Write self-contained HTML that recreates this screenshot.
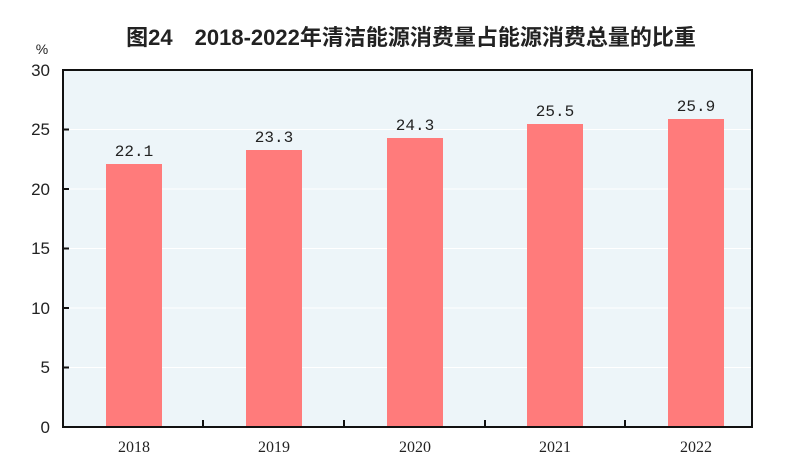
<!DOCTYPE html>
<html><head><meta charset="utf-8"><style>body{margin:0;background:#fff}</style></head><body>
<svg width="800" height="468" xmlns="http://www.w3.org/2000/svg" font-family="Liberation Sans, Noto Sans CJK SC, sans-serif">
<text x="411" y="45" font-size="22" font-weight="bold" text-anchor="middle" fill="#222" font-family="Liberation Sans, Noto Sans CJK SC, sans-serif">图24　2018-2022年清洁能源消费量占能源消费总量的比重</text>
<rect x="63" y="70" width="689" height="357" fill="#edf5f9"/>
<g stroke="#fff" stroke-width="1">
<line x1="63" x2="752" y1="129.5" y2="129.5"/><line x1="63" x2="752" y1="189" y2="189"/><line x1="63" x2="752" y1="248.5" y2="248.5"/><line x1="63" x2="752" y1="308" y2="308"/><line x1="63" x2="752" y1="367.5" y2="367.5"/>
</g>
<g fill="#ff7b7b">
<rect x="106" y="164" width="56" height="263"/>
<rect x="246" y="150" width="56" height="277"/>
<rect x="387" y="138" width="56" height="289"/>
<rect x="527" y="124" width="56" height="303"/>
<rect x="668" y="119" width="56" height="308"/>
</g>
<rect x="63" y="70" width="689" height="357" fill="none" stroke="#111" stroke-width="2"/>
<g stroke="#111" stroke-width="2">
<line x1="63" x2="69" y1="129.5" y2="129.5"/><line x1="63" x2="69" y1="189" y2="189"/><line x1="63" x2="69" y1="248.5" y2="248.5"/><line x1="63" x2="69" y1="308" y2="308"/><line x1="63" x2="69" y1="367.5" y2="367.5"/>
<line x1="203" x2="203" y1="420" y2="427"/><line x1="344" x2="344" y1="420" y2="427"/><line x1="485" x2="485" y1="420" y2="427"/><line x1="625" x2="625" y1="420" y2="427"/>
</g>
<g font-size="17" fill="#222" text-anchor="end">
<text x="50" y="76">30</text><text x="50" y="135">25</text><text x="50" y="195">20</text><text x="50" y="254">15</text><text x="50" y="314">10</text><text x="50" y="373">5</text><text x="50" y="433">0</text>
</g>
<text x="42" y="54" font-size="14" fill="#222" text-anchor="middle">%</text>
<g font-size="16" fill="#222" text-anchor="middle" font-family="Liberation Serif, serif">
<text x="134" y="452">2018</text><text x="274" y="452">2019</text><text x="415" y="452">2020</text><text x="555" y="452">2021</text><text x="696" y="452">2022</text>
</g>
<g font-size="16" fill="#222" text-anchor="middle" font-family="Liberation Mono, monospace">
<text x="134" y="156">22.1</text><text x="274" y="142">23.3</text><text x="415" y="130">24.3</text><text x="555" y="116">25.5</text><text x="696" y="111">25.9</text>
</g>
</svg>
</body></html>
